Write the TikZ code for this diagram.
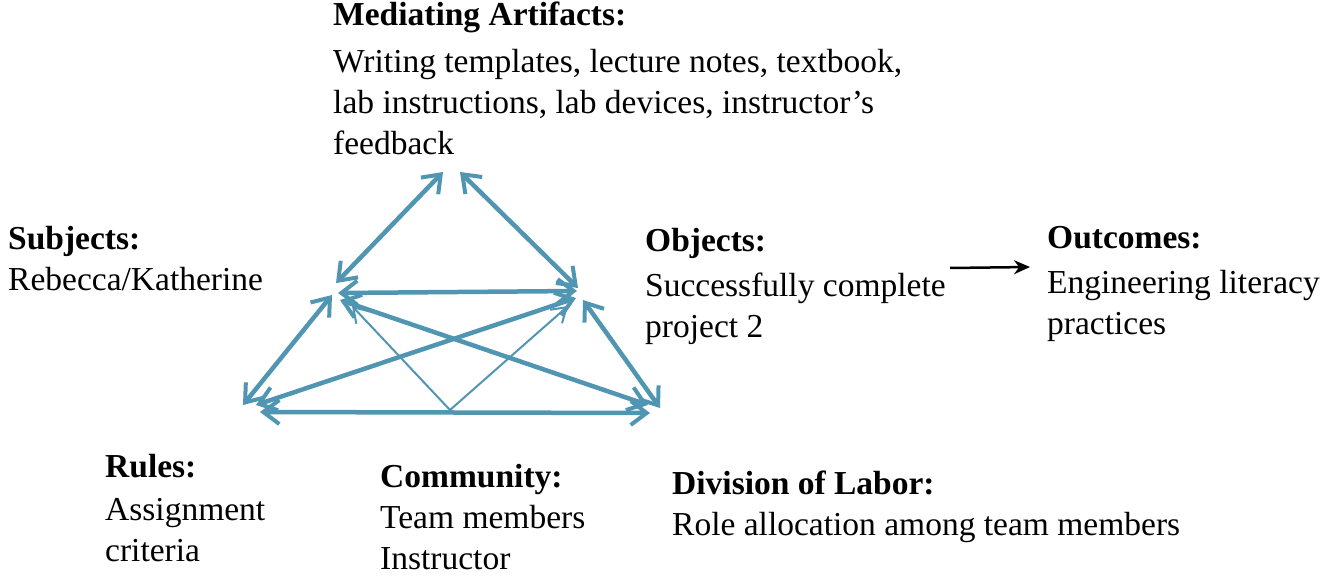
\documentclass[tikz,border=0pt]{standalone}
\usepackage{fontspec}
\setmainfont{Liberation Serif}
\usetikzlibrary{arrows.meta,calc}
\definecolor{tri}{RGB}{80,150,178}
\begin{document}
\begin{tikzpicture}[x=1pt,y=-1pt,
  lab/.style={anchor=north west,align=left,inner sep=0pt,font=\fontsize{33.5}{41}\selectfont},
  edge/.style={draw=tri,line width=4.5pt,{Straight Barb[length=16pt,width=24pt,line width=4pt]}-{Straight Barb[length=16pt,width=24pt,line width=4pt]}},
  thin/.style={draw=tri,line width=2pt,-{Straight Barb[length=14pt,width=18pt,line width=2pt]}}]
\useasboundingbox (0,0) rectangle (1325,586);
\node[lab] (med) at (333,2) {\textbf{Mediating Artifacts:}\\[6pt]Writing templates, lecture notes, textbook,\\lab instructions, lab devices, instructor’s\\feedback};
\node[lab] (sub) at (8,226) {\textbf{Subjects:}\\Rebecca/Katherine};
\node[lab] (obj) at (645,228) {\textbf{Objects:}\\[4pt]Successfully complete\\project 2};
\node[lab] (out) at (1047,226) {\textbf{Outcomes:}\\[4pt]Engineering literacy\\practices};
\node[lab] (rul) at (105,454) {\textbf{Rules:}\\[2pt]Assignment\\criteria};
\node[lab] (com) at (380,464) {\textbf{Community:}\\Team members\\Instructor};
\node[lab] (div) at (672,471) {\textbf{Division of Labor:}\\Role allocation among team members};
\coordinate (mA) at (443,172);
\coordinate (mB) at (460,172);
\coordinate (S) at (336,283);
\coordinate (O) at (578,288);
\coordinate (R) at (243,405);
\coordinate (D) at (660,408);
\coordinate (C) at (450,410);
\draw[edge] (mA) -- (S);
\draw[edge] (mB) -- (O);
\draw[edge] (338,293) -- (577,291);
\draw[edge] ($(S)+(-4,12)$) -- (R);
\draw[edge] ($(O)+(5,12)$) -- (D);
\draw[edge] (260,412) -- (650,413);
\draw[edge] (340,300) -- (648,405);
\draw[edge] (576,298) -- (256,405);
\draw[thin] (C) -- (352,306);
\draw[thin] (C) -- (568,306);
\coordinate (oa) at (950,268);
\coordinate (ob) at (1030,267);
\draw[line width=2.5pt,-{Stealth[length=16pt,width=14pt]}] (oa) -- (ob);
\end{tikzpicture}
\end{document}
